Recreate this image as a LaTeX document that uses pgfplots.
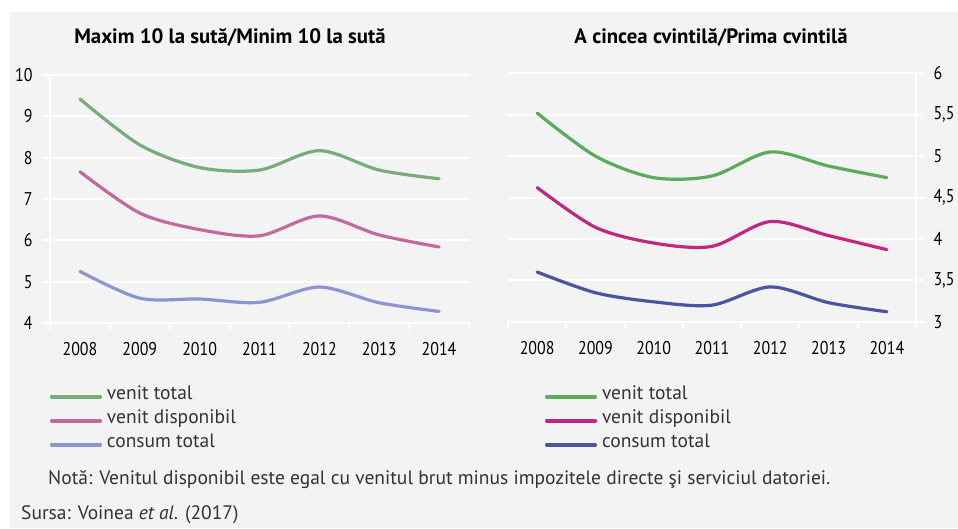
\documentclass[border=0pt]{standalone}
\usepackage{pgfplots}
\pgfplotsset{compat=1.18}
\usepackage{fontspec}
\setmainfont{PT Sans}
\newfontfamily\cond[FakeStretch=0.86]{PT Sans}
\definecolor{bg}{HTML}{F2F3F2}
\definecolor{lg}{HTML}{79AC7B}
\definecolor{lp}{HTML}{C4699C}
\definecolor{lb}{HTML}{8D94D0}
\definecolor{rg}{HTML}{5CAB5C}
\definecolor{rp}{HTML}{C2277F}
\definecolor{rb}{HTML}{4B53A4}
\definecolor{txt}{HTML}{333333}
\pgfplotstableread{
x vt vd ct
0 9.42 7.66 5.25
1 8.31 6.66 4.60
2 7.76 6.26 4.58
3 7.70 6.11 4.50
4 8.17 6.59 4.87
5 7.70 6.13 4.49
6 7.49 5.84 4.28
}\lefttab
\pgfplotstableread{
x vt vd ct
0 5.52 4.62 3.60
1 5.00 4.14 3.35
2 4.74 3.95 3.24
3 4.76 3.91 3.20
4 5.05 4.21 3.42
5 4.88 4.04 3.23
6 4.74 3.87 3.12
}\righttab
\pgfplotsset{
  common/.style={
    scale only axis,
    xmin=-0.5, xmax=6.5,
    xtick={-0.5,0.5,...,6.5}, xticklabels={},
    extra x ticks={0,1,2,3,4,5,6},
    extra x tick labels={2008,2009,2010,2011,2012,2013,2014},
    extra x tick style={major tick length=0pt, grid=none,
      xticklabel style={yshift=-16pt}},
    ymajorgrids, grid style={white, line width=2pt},
    axis x line*=bottom,
    axis line style={white, line width=2pt, -},
    tick align=outside, major tick length=7pt,
    tick style={white, line width=2pt},
    ticklabel style={font=\cond\fontsize{18.5}{18.5}\selectfont, text=black},
    legend cell align=left,
    legend image code/.code={\draw[##1, line width=3.2pt, line cap=round] (1.6pt,0pt) -- (50.4pt,0pt);},
    legend style={draw=none, fill=none, inner sep=0pt, outer sep=0pt,
      font=\fontsize{19.5}{19.5}\selectfont, text=txt,
      nodes={inner sep=0pt, text height=14pt, text depth=10pt},
      /tikz/every odd column/.append style={column sep=5pt},
      at={(0,0)}, anchor=north west},
    every axis plot/.append style={smooth, line width=3.2pt, line cap=round, no markers},
  }
}
\begin{document}
\begin{tikzpicture}[x=1pt,y=1pt]
\fill[white] (0,0) rectangle (958,528);
\fill[bg] (10,0) rectangle (958,516);
\begin{axis}[common, at={(50pt,205pt)}, anchor=south west,
  width=419pt, height=248pt, ymin=4, ymax=10, ytick={4,...,10},
  yticklabels={4,5,6,7,8,9,10},
  yticklabel style={xshift=-7pt},
  axis y line*=left,
  legend style={yshift=-62pt}]
\addplot[lg] table[x=x,y=vt]{\lefttab};
\addplot[lp] table[x=x,y=vd]{\lefttab};
\addplot[lb] table[x=x,y=ct]{\lefttab};
\legend{venit total, venit disponibil, consum total}
\end{axis}
\begin{axis}[common, at={(508pt,206.3pt)}, anchor=south west,
  width=408pt, height=248.4pt, ymin=3, ymax=6, ytick={3,3.5,...,6},
  yticklabels={3,{3,5},4,{4,5},5,{5,5},6},
  yticklabel style={xshift=7pt},
  axis y line*=right,
  legend style={xshift=37pt, yshift=-63.3pt}]
\addplot[rg] table[x=x,y=vt]{\righttab};
\addplot[rp] table[x=x,y=vd]{\righttab};
\addplot[rb] table[x=x,y=ct]{\righttab};
\legend{venit total, venit disponibil, consum total}
\end{axis}
\node[anchor=center, font=\bfseries\fontsize{20.8}{20.8}\selectfont] at (230,491) {Maxim 10 la sută/Minim 10 la sută};
\node[anchor=center, font=\bfseries\fontsize{20.8}{20.8}\selectfont] at (711,491) {A cincea cvintilă/Prima cvintilă};
\node[anchor=west, inner sep=0pt, text=txt, font=\fontsize{19.5}{19.5}\selectfont] at (48,48) {Notă: Venitul disponibil este egal cu venitul brut minus impozitele directe şi serviciul datoriei.};
\node[anchor=west, inner sep=0pt, text=txt, font=\fontsize{19.5}{19.5}\selectfont] at (21,13) {Sursa: Voinea \textit{et al.} (2017)};
\end{tikzpicture}
\end{document}
